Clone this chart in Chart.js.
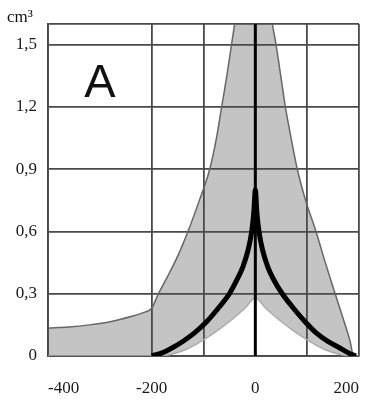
<!DOCTYPE html>
<html lang="en">
<head>
    <meta charset="UTF-8">
    <title>Volume chart A</title>
    <script src="https://cdn.jsdelivr.net/npm/chart.js"></script>
    <style>
        body {
            margin: 0;
            background-color: #ffffff;
            overflow: hidden;
        }
        #wrap {
            position: relative;
            width: 367px;
            height: 400px;
        }
    </style>
</head>
<body>
    <div id="wrap"><canvas id="volChart"></canvas></div>
    <script>
        // tick values
        const xGrid = [-400, -200, -100, 0, 100, 200];
        const xLabels = [-400, -200, 0, 200];
        const yGrid = [0, 0.3, 0.6, 0.9, 1.2, 1.5, 1.6];
        const yLabels = [0, 0.3, 0.6, 0.9, 1.2, 1.5];

        // outer edge of the grey band
        const outerX = [-400, -360, -320, -280, -240, -215, -200, -187, -170, -150, -130, -108, -88, -75, -65, -55, -46, -40, -34,
                        27, 33, 40, 49, 58, 69, 81, 97, 117, 135, 154, 172, 182, 190, 200];
        const outerY = [0.135, 0.14, 0.15, 0.165, 0.19, 0.21, 0.23, 0.3, 0.38, 0.48, 0.6, 0.75, 0.9, 1.05, 1.2, 1.35, 1.5, 1.6, 1.72,
                        1.72, 1.6, 1.5, 1.35, 1.2, 1.05, 0.9, 0.75, 0.6, 0.45, 0.3, 0.16, 0.08, 0, 0];

        // inner edge of the grey band
        const innerX = [-400, -185, -160, -135, -112, -80, -48, -20, 0, 20, 48, 80, 112, 135, 160, 185, 200];
        const innerY = [0, 0, 0.01, 0.03, 0.06, 0.11, 0.17, 0.23, 0.28, 0.23, 0.17, 0.11, 0.06, 0.03, 0.01, 0, 0];

        // thick black curve
        const curveX = [-200, -180, -160, -140, -118, -94, -70, -50, -35, -24, -14, -7, -3, 0,
                        3, 7, 14, 24, 35, 52, 72, 96, 118, 140, 162, 180, 194];
        const curveY = [0, 0.015, 0.04, 0.07, 0.11, 0.165, 0.235, 0.3, 0.37, 0.43, 0.51, 0.6, 0.69, 0.8,
                        0.69, 0.6, 0.51, 0.43, 0.37, 0.3, 0.235, 0.165, 0.11, 0.07, 0.04, 0.015, 0];

        // vertical line at zero
        const axisX = [0, 0];
        const axisY = [0, 1.6];

        const toPoints = (xs, ys) => xs.map((x, i) => ({ x: x, y: ys[i] }));

        const gridColor = '#4a4a4a';
        const tickFont = { family: 'Liberation Serif', size: 17 };

        const textPlugin = {
            id: 'chartText',
            afterDraw(chart) {
                const ctx = chart.ctx;
                const xs = chart.scales.x;
                const ys = chart.scales.y;
                ctx.save();
                ctx.fillStyle = '#111';
                ctx.font = '47px "Liberation Sans"';
                ctx.textAlign = 'center';
                ctx.textBaseline = 'middle';
                ctx.fillText('A', xs.getPixelForValue(-300), ys.getPixelForValue(1.31));
                ctx.font = '17px "Liberation Serif"';
                ctx.textAlign = 'left';
                ctx.fillText('cm³', 7, 18);
                ctx.restore();
            }
        };

        const ctx = document.getElementById('volChart').getContext('2d');
        const volChart = new Chart(ctx, {
            type: 'line',
            data: {
                datasets: [
                    {
                        data: toPoints(curveX, curveY),
                        borderColor: '#000',
                        borderWidth: 5,
                        cubicInterpolationMode: 'monotone',
                        pointRadius: 0,
                        fill: false
                    },
                    {
                        data: toPoints(axisX, axisY),
                        borderColor: '#000',
                        borderWidth: 3,
                        pointRadius: 0,
                        fill: false
                    },
                    {
                        data: toPoints(outerX, outerY),
                        borderColor: '#666',
                        borderWidth: 1.5,
                        backgroundColor: '#c4c4c4',
                        cubicInterpolationMode: 'monotone',
                        pointRadius: 0,
                        fill: '+1'
                    },
                    {
                        data: toPoints(innerX, innerY),
                        borderColor: '#ababab',
                        borderWidth: 1.5,
                        cubicInterpolationMode: 'monotone',
                        pointRadius: 0,
                        fill: false
                    }
                ]
            },
            options: {
                responsive: true,
                maintainAspectRatio: false,
                animation: false,
                layout: {
                    padding: { top: 24, right: 8, left: 0, bottom: 0 }
                },
                plugins: {
                    legend: { display: false },
                    tooltip: { enabled: false },
                    filler: { drawTime: 'beforeDraw' }
                },
                scales: {
                    x: {
                        type: 'linear',
                        min: -400,
                        max: 200,
                        afterBuildTicks: scale => {
                            scale.ticks = xGrid.map(v => ({ value: v }));
                        },
                        afterFit: scale => {
                            scale.height = 44;
                            scale.paddingLeft = 0;
                            scale.paddingRight = 0;
                        },
                        grid: { color: gridColor, lineWidth: 1.8, drawTicks: false },
                        border: { color: gridColor, width: 1.8 },
                        ticks: {
                            align: 'inner',
                            padding: 22,
                            color: '#1a1a1a',
                            font: tickFont,
                            autoSkip: false,
                            maxRotation: 0,
                            callback: value => xLabels.includes(value) ? String(value) : ''
                        }
                    },
                    y: {
                        min: 0,
                        max: 1.6,
                        afterBuildTicks: scale => {
                            scale.ticks = yGrid.map(v => ({ value: v }));
                        },
                        afterFit: scale => {
                            scale.width = 48;
                        },
                        grid: { color: gridColor, lineWidth: 1.8, drawTicks: false },
                        border: { color: gridColor, width: 1.8 },
                        ticks: {
                            padding: 11,
                            color: '#1a1a1a',
                            font: tickFont,
                            autoSkip: false,
                            callback: value => yLabels.includes(value) ? String(value).replace('.', ',') : ''
                        }
                    }
                }
            },
            plugins: [textPlugin]
        });
    </script>
</body>
</html>
